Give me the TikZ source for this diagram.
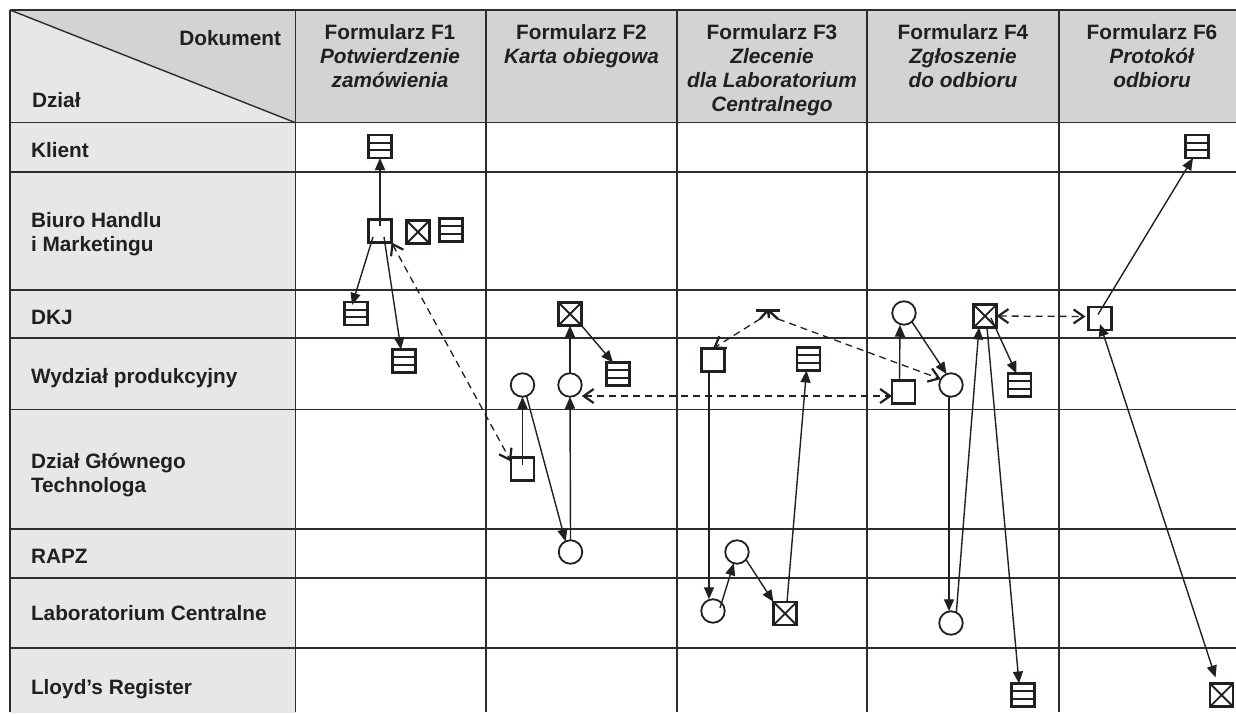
\documentclass[tikz,border=0pt]{standalone}
\usepackage{fontspec}
\setmainfont{Liberation Sans}
\usetikzlibrary{arrows.meta,calc}

\definecolor{hdrgray}{RGB}{210,211,213}
\definecolor{colgray}{RGB}{230,231,232}
\definecolor{ink}{RGB}{35,31,32}
\definecolor{rule}{RGB}{45,45,45}

\tikzset{
  every node/.style={inner sep=0pt, outer sep=0pt},
  gridline/.style={draw=rule, line width=1.4pt},
  txt/.style={font=\fontsize{20.8}{24}\selectfont\bfseries, text=ink},
  sym/.style={rectangle, draw=ink, line width=2.2pt, minimum size=23pt},
  docbox/.style={sym},
  filebox/.style={sym, path picture={
      \draw[ink, line width=1.8pt]
        ($(path picture bounding box.north west)!1/3!(path picture bounding box.south west)$) --
        ($(path picture bounding box.north east)!1/3!(path picture bounding box.south east)$)
        ($(path picture bounding box.north west)!2/3!(path picture bounding box.south west)$) --
        ($(path picture bounding box.north east)!2/3!(path picture bounding box.south east)$);}},
  xbox/.style={sym, path picture={
      \draw[ink, line width=1.8pt]
        (path picture bounding box.north west) -- (path picture bounding box.south east)
        (path picture bounding box.south west) -- (path picture bounding box.north east);}},
  circ/.style={circle, draw=ink, line width=1.8pt, minimum size=23.5pt},
  tipf/.tip={Triangle[length=12pt,width=10pt]},
  tipo/.tip={Straight Barb[length=10pt,width=14pt,line width=2.2pt]},
  arr/.style={draw=ink, line width=1.4pt, -tipf},
  arrboth/.style={draw=ink, line width=1.4pt, tipf-tipf},
  dsh/.style={draw=ink, line width=1.3pt, dash pattern=on 7pt off 5pt},
  dshto/.style={dsh, -tipo},
  dshboth/.style={dsh, tipo-tipo},
}

\begin{document}
\begin{tikzpicture}[x=1pt,y=-1pt]
\useasboundingbox (0,0) rectangle (1236,713);

% --- table background ---
\fill[hdrgray] (10,10) rectangle (1236,122.7);
\fill[colgray] (10,122.7) rectangle (295.5,713);
\fill[colgray] (10,10) -- (295.5,122.7) -- (10,122.7) -- cycle;

% --- table rules ---
\draw[gridline] (10,10) -- (1236,10);
\foreach \y in {122.7,172,290,338,409.5,529,578,648}
  \draw[gridline] (10,\y) -- (1236,\y);
\foreach \x in {10,295.5,486,677,867,1059}
  \draw[gridline, line width=1.8pt] (\x,10) -- (\x,712);
\draw[gridline] (10,10) -- (295.5,122.7);

% --- header ---
\node[txt, anchor=base east] (hDok) at (281,45.7) {Dokument};
\node[txt, anchor=base west] (hDzial) at (32,107.3) {Dział};
\node[txt, anchor=base] (hF1) at (390,39.3)
  {\begin{tabular}[t]{@{}c@{}}Formularz F1\\\textit{Potwierdzenie}\\\textit{zamówienia}\end{tabular}};
\node[txt, anchor=base] (hF2) at (581.5,39.3)
  {\begin{tabular}[t]{@{}c@{}}Formularz F2\\\textit{Karta obiegowa}\end{tabular}};
\node[txt, anchor=base] (hF3) at (772,39.3)
  {\begin{tabular}[t]{@{}c@{}}Formularz F3\\\textit{Zlecenie}\\\textit{dla Laboratorium}\\\textit{Centralnego}\end{tabular}};
\node[txt, anchor=base] (hF4) at (963,39.3)
  {\begin{tabular}[t]{@{}c@{}}Formularz F4\\\textit{Zgłoszenie}\\\textit{do odbioru}\end{tabular}};
\node[txt, anchor=base] (hF6) at (1152,39.3)
  {\begin{tabular}[t]{@{}c@{}}Formularz F6\\\textit{Protokół}\\\textit{odbioru}\end{tabular}};

% --- departments ---
\node[txt, anchor=base west] (rKl) at (31,157) {Klient};
\node[txt, anchor=base west] (rBH) at (31,227)
  {\begin{tabular}[t]{@{}l@{}}Biuro Handlu\\i Marketingu\end{tabular}};
\node[txt, anchor=base west] (rDKJ) at (31,324.5) {DKJ};
\node[txt, anchor=base west] (rWP) at (31,383.5) {Wydział produkcyjny};
\node[txt, anchor=base west] (rDGT) at (31,468.5)
  {\begin{tabular}[t]{@{}l@{}}Dział Głównego\\Technologa\end{tabular}};
\node[txt, anchor=base west] (rRAPZ) at (31,563) {RAPZ};
\node[txt, anchor=base west] (rLC) at (31,620.7) {Laboratorium Centralne};
\node[txt, anchor=base west] (rLR) at (31,694) {Lloyd’s Register};

% --- F1 ---
\node[filebox] (k1) at (380,146.5) {};
\node[docbox] (b1) at (380,231) {};
\node[xbox] (b1x) at (418,232) {};
\node[filebox] (b1f) at (451,230) {};
\node[filebox] (d1) at (356,313.5) {};
\node[filebox] (w1) at (404,361) {};

% --- F2 ---
\node[xbox] (d2) at (570,314) {};
\node[filebox] (w2f) at (618,374) {};
\node[circ] (w2a) at (522.5,385) {};
\node[circ] (w2b) at (570,385) {};
\node[docbox] (g2) at (522.5,469) {};
\node[circ] (r2) at (570.5,552) {};

% --- F3 ---
\coordinate (J) at (768,310);
\node[docbox] (w3) at (713,360) {};
\node[filebox] (w3f) at (808.5,359) {};
\node[circ] (r3) at (737,552) {};
\node[circ] (l3) at (713,611) {};
\node[xbox] (l3x) at (785,613.5) {};

% --- F4 ---
\node[circ] (d4) at (904,313) {};
\node[xbox] (d4x) at (985,316) {};
\node[docbox] (w4) at (903.5,392) {};
\node[circ] (w4c) at (951,385) {};
\node[filebox] (w4f) at (1019.5,385) {};
\node[circ] (l4) at (951,623) {};
\node[filebox] (y4) at (1023,695) {};

% --- F6 ---
\node[filebox] (k6) at (1197,146.5) {};
\node[docbox] (d6) at (1100,318.5) {};
\node[xbox] (y6) at (1221.5,695) {};

% --- flows F1 ---
\draw[arr] ([yshift=5pt]b1.center) -- (k1.south);
\draw[arr] ([xshift=-7pt,yshift=-6pt]b1.center) -- ([xshift=-4pt,yshift=-3pt]d1.north);
\draw[arr] ([xshift=4pt,yshift=-6pt]b1.center) -- ([xshift=-3pt]w1.north);
\draw[dshboth] (b1.south east) -- ([yshift=-4pt]g2.north west);

% --- flows F2 ---
\draw[arr] (w2b.north) -- (d2.south);
\draw[arr] (d2.south east) -- ([xshift=-5pt]w2f.north);
\draw[arr] ([yshift=4pt]g2.center) -- (w2a.south);
\draw[arr] (w2a.-70) -- (r2.115);
\draw[arr] (r2.north) -- (w2b.south);
\draw[dshboth] ([yshift=-11pt]w2b.east) -- ([yshift=-4pt]w4.west);

% --- flows F3 ---
\draw[ink, line width=3pt] ([xshift=-12pt]J) -- ([xshift=12pt]J);
\draw[ink, line width=2.4pt] (J) -- ++(-8,9) (J) -- ++(1,8) (J) -- ++(10,9);
\draw[dshto] ([xshift=-8pt,yshift=-9pt]J) -- (w3.north);
\draw[dshto] ([xshift=10pt,yshift=-9pt]J) -- (w4c.150);
\draw[arr] ([xshift=-4pt]w3.south) -- ([xshift=-4pt]l3.north);
\draw[arr] ([xshift=7pt,yshift=3pt]l3.center) -- (r3.254);
\draw[arr] (r3.-40) -- (l3x.north west);
\draw[arr] ([xshift=2pt]l3x.north) -- ([xshift=-2pt]w3f.south);

% --- flows F4 ---
\draw[arr] ([xshift=-4pt]w4.north) -- ([xshift=-4pt]d4.south);
\draw[arr] (d4.-48) -- (w4c.112);
\draw[arr] ([xshift=-2pt]w4c.south) -- ([xshift=-2pt]l4.north);
\draw[arr] (l4.63) -- ([xshift=-6pt]d4x.south);
\draw[arr] ([xshift=6pt,yshift=-2pt]d4x.center) -- ([xshift=-3pt]w4f.north);
\draw[arr] ([xshift=2pt]d4x.south) -- ([xshift=-4pt]y4.north);
\draw[dshboth] (d4x.east) -- ([xshift=-3pt,yshift=2pt]d6.west);

% --- flows F6 ---
\draw[arr] ([xshift=-2pt,yshift=4pt]d6.center) -- ([xshift=-4pt]k6.south);
\draw[arrboth] ([yshift=6pt]d6.south) -- ([xshift=-6pt,yshift=6pt]y6.north);
\end{tikzpicture}
\end{document}
